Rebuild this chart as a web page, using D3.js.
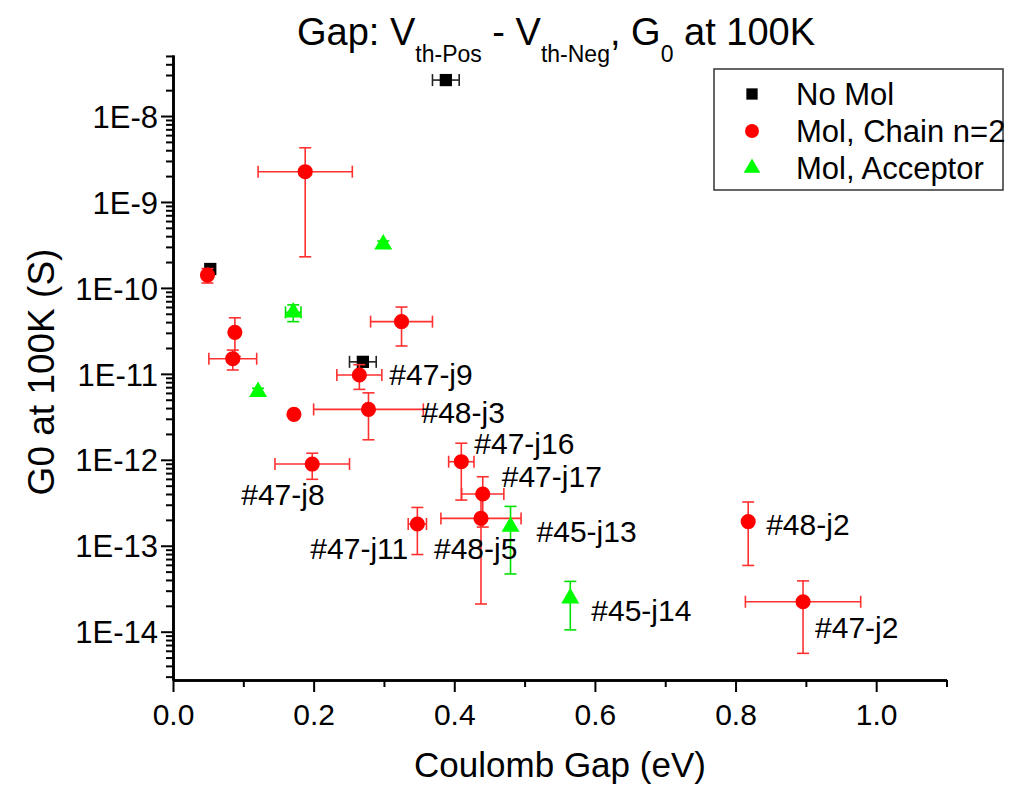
<!DOCTYPE html>
<html>
<head>
<meta charset="utf-8">
<script src="https://cdn.jsdelivr.net/npm/d3@7"></script>
<style>
  html, body { margin: 0; padding: 0; background: #fff; }
  text { font-family: "Liberation Sans", Arial, sans-serif; fill: #000; }
</style>
</head>
<body>
<svg id="chart" width="1016" height="788"></svg>
<script>
// Coulomb gap (eV) vs. zero-bias conductance G0 at 100 K (S)
const seriesNames = ["No Mol", "Mol, Chain n=2", "Mol, Acceptor"];

// No Mol
const noMolGap    = [0.388, 0.053, 0.270];
const noMolGapErr = [0.019, 0, 0.019];
const noMolG0     = [2.62e-8, 1.66e-10, 1.38e-11];
const noMolG0Err  = [0, 0, 0];
const noMolLabels = ["", "", ""];

// Mol, Chain n=2
const chainGap    = [0.049, 0.188, 0.088, 0.085, 0.172, 0.325, 0.265, 0.278, 0.198, 0.410, 0.4405, 0.438, 0.3475, 0.818, 0.896];
const chainGapErr = [0, 0.067, 0, 0.034, 0, 0.044, 0.032, 0.078, 0.053, 0.018, 0.030, 0.057, 0.013, 0, 0.082];
const chainG0     = [1.41e-10, 2.25e-9, 3.04e-11, 1.50e-11, 3.38e-12, 4.05e-11, 9.7e-12, 3.86e-12, 8.93e-13, 9.5e-13, 4.0e-13, 2.08e-13, 1.79e-13, 1.91e-13, 2.23e-14];
const chainG0Err  = [0.27e-10, 2.02e-9, 1.45e-11, 0.39e-11, 0, 1.94e-11, 3.1e-12, 2.15e-12, 3.0e-13, 6.1e-13, 2.35e-13, 1.87e-13, 1.0e-13, 1.32e-13, 1.67e-14];
const chainLabels = ["", "", "", "", "", "", "#47-j9", "#48-j3", "#47-j8", "#47-j16", "#47-j17", "#48-j5", "#47-j11", "#48-j2", "#47-j2"];

// Mol, Acceptor
const accGap    = [0.299, 0.171, 0.121, 0.480, 0.565];
const accGapErr = [0, 0.011, 0, 0, 0];
const accG0     = [3.21e-10, 5.2e-11, 6.19e-12, 1.67e-13, 2.45e-14];
const accG0Err  = [0.3e-10, 1.15e-11, 0.6e-12, 1.2e-13, 1.4e-14];
const accLabels = ["", "", "", "#45-j13", "#45-j14"];

// Axis ticks
const xMajorTicks = [0, 0.2, 0.4, 0.6, 0.8, 1.0];
const xMinorTicks = [0.1, 0.3, 0.5, 0.7, 0.9, 1.1];
const yDecades    = [-14, -13, -12, -11, -10, -9, -8];

// Label placement relative to each point (pixels)
const labelOffset = {
  "#47-j9":  [30, -1],  "#48-j3":  [53, 3],   "#47-j8":  [-71, 30],
  "#47-j16": [13, -19], "#47-j17": [19, -18], "#48-j5":  [-47, 30],
  "#47-j11": [-107, 24],"#48-j2":  [18, 3],   "#47-j2":  [12, 25],
  "#45-j13": [26, 5],   "#45-j14": [21, 12]
};

const svg = d3.select("#chart");
svg.append("rect").attr("width", 1016).attr("height", 788).attr("fill", "#fff");

const x = d3.scaleLinear().domain([0, 1.1]).range([173, 946.5]);
const y = d3.scaleLog().domain([Math.pow(10, -14.562), Math.pow(10, -7.29)]).range([680, 55]);

function build(gap, gapErr, g0, g0Err, labels) {
  return gap.map((g, i) => ({ x: g, xe: gapErr[i], y: g0[i], ye: g0Err[i], label: labels[i] }));
}
const series = [
  { name: seriesNames[0], data: build(noMolGap, noMolGapErr, noMolG0, noMolG0Err, noMolLabels),
    fill: "#000", err: "#222", shape: d3.symbolSquare, size: 150 },
  { name: seriesNames[1], data: build(chainGap, chainGapErr, chainG0, chainG0Err, chainLabels),
    fill: "#ff0000", err: "#ff3030", shape: d3.symbolCircle, size: 180 },
  { name: seriesNames[2], data: build(accGap, accGapErr, accG0, accG0Err, accLabels),
    fill: "#00ff00", err: "#00e000", shape: d3.symbolTriangle, size: 140 }
];

const FONT = "'Liberation Sans', Arial, sans-serif";

// ---- axes ----
const yMinor = [];
yDecades.concat([-15]).forEach(e => {
  for (let k = 2; k <= 9; k++) {
    const v = k * Math.pow(10, e);
    if (v >= y.domain()[0] && v <= y.domain()[1]) yMinor.push(v);
  }
});

const axisStyle = g => {
  g.selectAll("path.domain").attr("stroke", "#000").attr("stroke-width", 2.6);
  g.selectAll(".tick line").attr("stroke", "#000").attr("stroke-width", 2);
};

svg.append("g").attr("transform", "translate(173,0)")
  .call(d3.axisLeft(y).tickValues(yMinor).tickSize(7).tickSizeOuter(0).tickFormat(""))
  .call(axisStyle);

svg.append("g").attr("transform", "translate(173,0)")
  .call(d3.axisLeft(y).tickValues(yDecades.map(e => Math.pow(10, e))).tickSize(12).tickSizeOuter(0)
    .tickFormat(d => "1E" + Math.round(Math.log10(d))))
  .call(axisStyle)
  .call(g => g.selectAll(".tick text").attr("x", -15).attr("dy", "0.36em")
    .style("font-size", "31px").style("font-family", FONT).attr("fill", "#000"));

svg.append("g").attr("transform", "translate(0,680)")
  .call(d3.axisBottom(x).tickValues(xMinorTicks).tickSize(7).tickSizeOuter(0).tickFormat(""))
  .call(axisStyle);

svg.append("g").attr("transform", "translate(0,680)")
  .call(d3.axisBottom(x).tickValues(xMajorTicks).tickSize(12).tickSizeOuter(0).tickFormat(d3.format(".1f")))
  .call(axisStyle)
  .call(g => g.selectAll(".tick text").attr("y", 24).attr("dy", "0.71em")
    .style("font-size", "30px").style("font-family", FONT).attr("fill", "#000"));

// axis titles
svg.append("text").attr("x", 560).attr("y", 777).attr("text-anchor", "middle")
  .style("font-size", "35px").text("Coulomb Gap (eV)");
svg.append("text").attr("transform", "translate(54,372) rotate(-90)").attr("text-anchor", "middle")
  .style("font-size", "37px").text("G0 at 100K (S)");

// title with subscripts
const title = svg.append("text").attr("x", 556).attr("y", 45).attr("text-anchor", "middle")
  .style("font-size", "38px");
[["Gap: V", false], ["th-Pos", true], [" - V", false], ["th-Neg", true], [", G", false], ["0", true], [" at 100K", false]]
  .forEach(([t, sub], i) => {
    const ts = title.append("tspan").text(t);
    if (sub) ts.style("font-size", "23px").attr("dy", 17);
    else ts.attr("dy", i > 0 ? -17 : 0);
  });

// ---- error bars and markers ----
const cap = 6;
series.forEach(s => {
  const g = svg.append("g");
  s.data.forEach(d => {
    const cx = x(d.x), cy = y(d.y);
    if (d.xe > 0) {
      const x0 = x(d.x - d.xe), x1 = x(d.x + d.xe);
      g.append("line").attr("x1", x0).attr("x2", x1).attr("y1", cy).attr("y2", cy);
      g.append("line").attr("x1", x0).attr("x2", x0).attr("y1", cy - cap).attr("y2", cy + cap);
      g.append("line").attr("x1", x1).attr("x2", x1).attr("y1", cy - cap).attr("y2", cy + cap);
    }
    if (d.ye > 0) {
      const y0 = y(d.y - d.ye), y1 = y(d.y + d.ye);
      g.append("line").attr("x1", cx).attr("x2", cx).attr("y1", y0).attr("y2", y1);
      g.append("line").attr("x1", cx - cap).attr("x2", cx + cap).attr("y1", y0).attr("y2", y0);
      g.append("line").attr("x1", cx - cap).attr("x2", cx + cap).attr("y1", y1).attr("y2", y1);
    }
  });
  g.selectAll("line").attr("stroke", s.err).attr("stroke-width", 1.6);
  g.selectAll("path").data(s.data).join("path")
    .attr("d", d3.symbol().type(s.shape).size(s.size))
    .attr("transform", d => `translate(${x(d.x)},${y(d.y)})`)
    .attr("fill", s.fill);
});

// sample labels
series.forEach(s => {
  s.data.filter(d => d.label).forEach(d => {
    const [dx, dy] = labelOffset[d.label];
    svg.append("text").attr("x", x(d.x) + dx).attr("y", y(d.y) + dy).attr("dy", "0.36em")
      .style("font-size", "30px").text(d.label);
  });
});

// ---- legend ----
const lg = svg.append("g");
lg.append("rect").attr("x", 714).attr("y", 69).attr("width", 289).attr("height", 121)
  .attr("fill", "#fff").attr("stroke", "#333").attr("stroke-width", 1.5);
series.forEach((s, i) => {
  const ly = 94 + i * 37;
  lg.append("path").attr("d", d3.symbol().type(s.shape).size(s.size * 0.85))
    .attr("transform", `translate(752,${ly})`).attr("fill", s.fill);
  lg.append("text").attr("x", 796).attr("y", ly).attr("dy", "0.36em")
    .style("font-size", "31px").text(s.name);
});
</script>
</body>
</html>
